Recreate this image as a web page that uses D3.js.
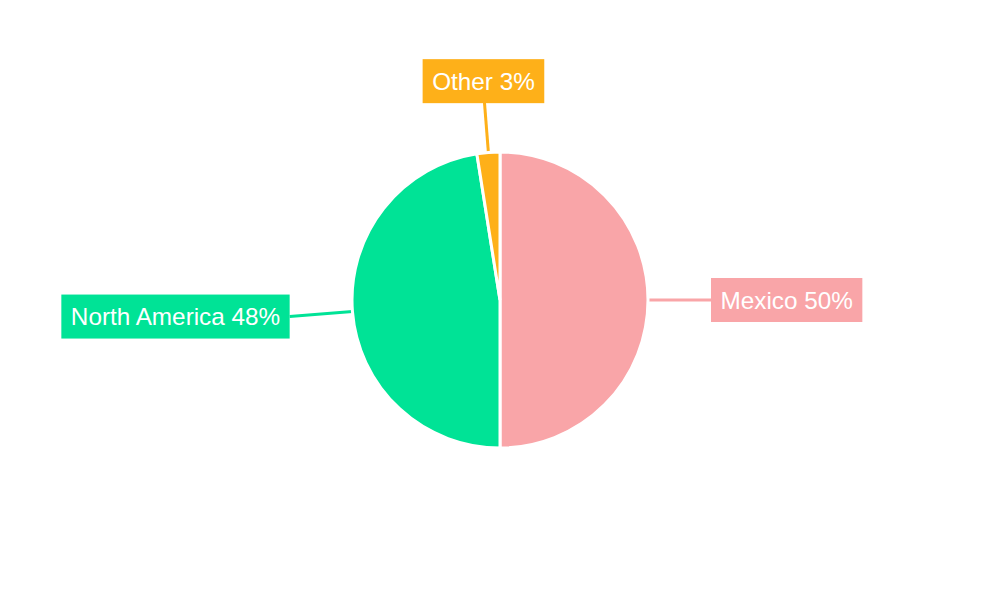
<!DOCTYPE html>
<html>
<head>
<meta charset="utf-8">
<script src="https://cdn.jsdelivr.net/npm/d3@7"></script>
<style>
  html, body { margin: 0; padding: 0; background: #fff; }
  text { font-family: "Liberation Sans", Arial, sans-serif; }
</style>
</head>
<body>
<svg id="chart" width="1000" height="600"></svg>
<script>
// slice data (clockwise from 12 o'clock)
const regions = ["Mexico", "North America", "Other"];
const shares = [50, 47.5, 2.5];
const sliceColors = ["#f9a5a8", "#00e396", "#feb019"];

const width = 1000, height = 600;
const cx = 500, cy = 300;
const radius = 148;
const labelRadius = 211;
const fontSize = 24.3;
const pad = 9.5;

const svg = d3.select("#chart");
const g = svg.append("g").attr("transform", `translate(${cx},${cy})`);

const color = d3.scaleOrdinal().domain(regions).range(sliceColors);
const total = d3.sum(shares);
const data = regions.map((name, i) => ({ name, value: shares[i] }));

const pie = d3.pie().value(d => d.value).sort(null);
const arcs = pie(data);
const arcGen = d3.arc().innerRadius(0).outerRadius(radius);

const pt = (angle, r) => [r * Math.sin(angle), -r * Math.cos(angle)];

// leader lines, drawn first so the slices and boxes sit on top
g.append("g").selectAll("line")
  .data(arcs).join("line")
  .attr("x1", d => pt((d.startAngle + d.endAngle) / 2, radius)[0])
  .attr("y1", d => pt((d.startAngle + d.endAngle) / 2, radius)[1])
  .attr("x2", d => pt((d.startAngle + d.endAngle) / 2, labelRadius)[0])
  .attr("y2", d => pt((d.startAngle + d.endAngle) / 2, labelRadius)[1])
  .attr("stroke", d => color(d.data.name))
  .attr("stroke-width", 3);

g.append("g").selectAll("path")
  .data(arcs).join("path")
  .attr("d", arcGen)
  .attr("fill", d => color(d.data.name))
  .attr("stroke", "#fff")
  .attr("stroke-width", 3);

const labels = g.append("g").selectAll("g")
  .data(arcs).join("g");

labels.each(function(d) {
  const mid = (d.startAngle + d.endAngle) / 2;
  const [x, y] = pt(mid, labelRadius);
  const side = Math.abs(Math.sin(mid)) > 0.5;
  const grp = d3.select(this);
  const rect = grp.append("rect").attr("fill", color(d.data.name));
  const txt = grp.append("text")
    .attr("fill", "#fff")
    .attr("font-size", fontSize)
    .text(`${d.data.name} ${Math.round(d.data.value / total * 100)}%`);
  if (side) {
    const right = Math.sin(mid) > 0;
    txt.attr("x", right ? x + pad : x - pad)
      .attr("y", y)
      .attr("dy", "0.35em")
      .attr("text-anchor", right ? "start" : "end");
  } else {
    txt.attr("x", x).attr("y", y).attr("text-anchor", "middle");
  }
  const bb = txt.node().getBBox();
  const h = 44;
  const mY = bb.y + bb.height / 2;
  rect.attr("x", bb.x - pad)
    .attr("width", bb.width + pad * 2)
    .attr("y", side ? y - h / 2 : mY - h / 2)
    .attr("height", h);
});
</script>
</body>
</html>
